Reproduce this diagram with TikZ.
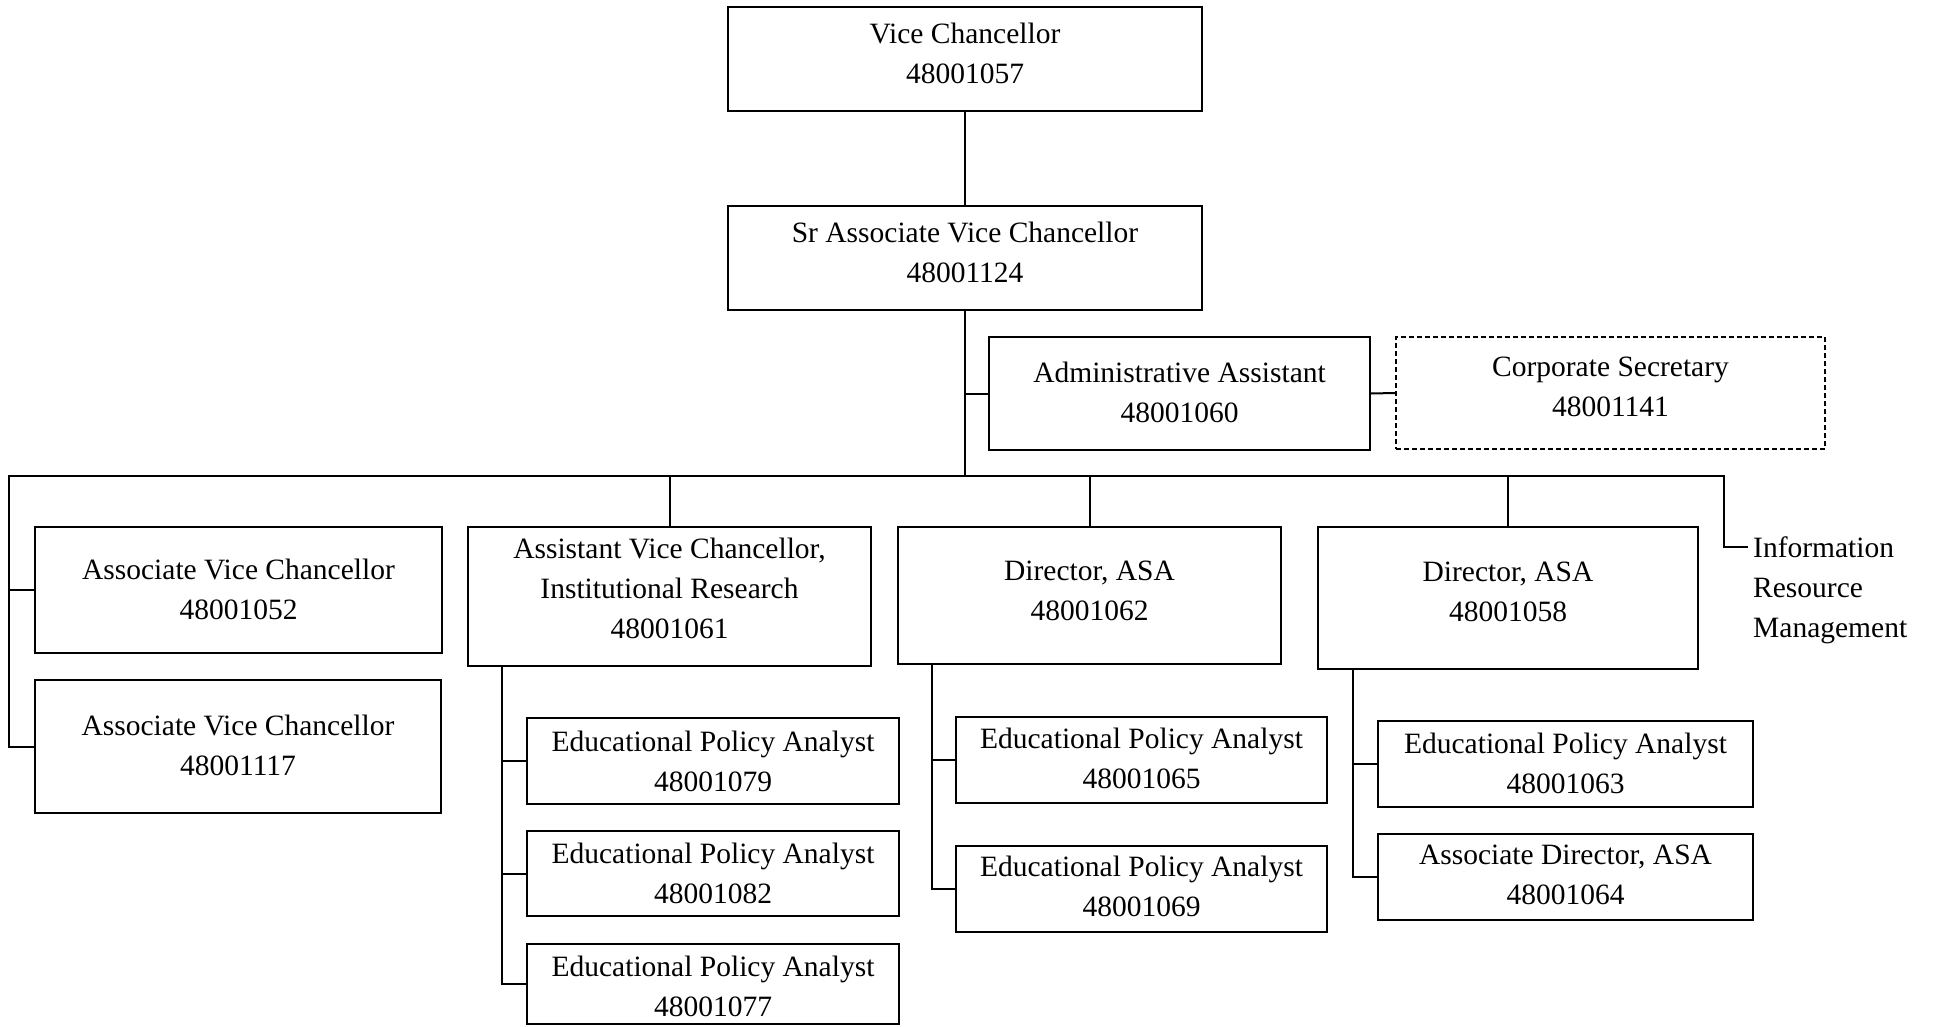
\documentclass[tikz,border=0pt]{standalone}
\usepackage{fontspec}
\setmainfont{Liberation Serif}
\begin{document}
\begin{tikzpicture}[x=1pt,y=-1pt,
  box/.style={draw, rectangle, line width=2pt, inner sep=0pt},
  dbox/.style={draw, rectangle, line width=1.8pt, inner sep=0pt, dash pattern=on 5pt off 3pt},
  lbl/.style={inner sep=0pt, align=center, font=\fontsize{29.5}{40}\selectfont},
  conn/.style={line width=2pt}]
\useasboundingbox (0,0) rectangle (1936,1027);
% boxes
\node[box, minimum width=474, minimum height=104] (vc) at (965,59) {};
\node[box, minimum width=474, minimum height=104] (sravc) at (965,258) {};
\node[box, minimum width=381, minimum height=113] (admin) at (1179.5,393.5) {};
\node[dbox, minimum width=429, minimum height=112] (corp) at (1610.5,393) {};
\node[box, minimum width=407, minimum height=126] (avc1) at (238.5,590) {};
\node[box, minimum width=406, minimum height=133] (avc2) at (238,746.5) {};
\node[box, minimum width=403, minimum height=139] (avcir) at (669.5,596.5) {};
\node[box, minimum width=383, minimum height=137] (dir1) at (1089.5,595.5) {};
\node[box, minimum width=380, minimum height=142] (dir2) at (1508,598) {};
\node[box, minimum width=372, minimum height=86] (epa1) at (713,761) {};
\node[box, minimum width=372, minimum height=85] (epa2) at (713,873.5) {};
\node[box, minimum width=372, minimum height=80] (epa3) at (713,984) {};
\node[box, minimum width=371, minimum height=86] (epa65) at (1141.5,760) {};
\node[box, minimum width=371, minimum height=86] (epa69) at (1141.5,889) {};
\node[box, minimum width=375, minimum height=86] (epa63) at (1565.5,764) {};
\node[box, minimum width=375, minimum height=86] (adir) at (1565.5,877) {};
% texts
\node[lbl] (vc-t) at ([yshift=6]vc.center) {Vice Chancellor\\48001057};
\node[lbl] (sravc-t) at ([yshift=6]sravc.center) {Sr Associate Vice Chancellor\\48001124};
\node[lbl] (admin-t) at ([yshift=1]admin.center) {Administrative Assistant\\48001060};
\node[lbl] (corp-t) at ([yshift=6]corp.center) {Corporate Secretary\\48001141};
\node[lbl] (avc1-t) at ([yshift=1]avc1.center) {Associate Vice Chancellor\\48001052};
\node[lbl] (avc2-t) at ([yshift=1]avc2.center) {Associate Vice Chancellor\\48001117};
\node[lbl] (avcir-t) at ([yshift=8]avcir.center) {Assistant Vice Chancellor,\\Institutional Research\\48001061};
\node[lbl] (dir1-t) at ([yshift=5]dir1.center) {Director, ASA\\48001062};
\node[lbl] (dir2-t) at ([yshift=6]dir2.center) {Director, ASA\\48001058};
\node[lbl] (epa1-t) at (epa1.center) {Educational Policy Analyst\\48001079};
\node[lbl] (epa2-t) at (epa2.center) {Educational Policy Analyst\\48001082};
\node[lbl] (epa3-t) at ([yshift=-2]epa3.center) {Educational Policy Analyst\\48001077};
\node[lbl] (epa65-t) at ([yshift=2]epa65.center) {Educational Policy Analyst\\48001065};
\node[lbl] (epa69-t) at ([yshift=3]epa69.center) {Educational Policy Analyst\\48001069};
\node[lbl] (epa63-t) at ([yshift=1]epa63.center) {Educational Policy Analyst\\48001063};
\node[lbl] (adir-t) at ([yshift=2]adir.center) {Associate Director, ASA\\48001064};
\node[lbl, align=left, anchor=north west] (irm) at (1753,537) {Information\\Resource\\Management};
% coordinates
\coordinate (busL) at (9,476);
\coordinate (busR) at (1724,476);
\coordinate (irmc) at (1748,547);
\coordinate (irx) at (502,0);
\coordinate (d1x) at (932,0);
\coordinate (d2x) at (1353,0);
% connectors
\draw[conn] (vc.south) -- (sravc.north);
\draw[conn] (sravc.south) -- (sravc.south |- busL);
\draw[conn] (admin.west) -- (admin.west -| sravc.south);
\draw[conn] (admin.east) -- (corp.west);
\draw[conn] (avc2.west) -| (busL) -- (busR) |- (irmc);
\draw[conn] (avc1.west) -- (avc1.west -| busL);
\draw[conn] (avcir.north) -- (avcir.north |- busL);
\draw[conn] (dir1.north) -- (dir1.north |- busL);
\draw[conn] (dir2.north) -- (dir2.north |- busL);
\draw[conn] (avcir.south -| irx) |- (epa3.west);
\draw[conn] (epa1.west) -- (epa1.west -| irx);
\draw[conn] (epa2.west) -- (epa2.west -| irx);
\draw[conn] (dir1.south -| d1x) |- (epa69.west);
\draw[conn] (epa65.west) -- (epa65.west -| d1x);
\draw[conn] (dir2.south -| d2x) |- (adir.west);
\draw[conn] (epa63.west) -- (epa63.west -| d2x);
\end{tikzpicture}
\end{document}
